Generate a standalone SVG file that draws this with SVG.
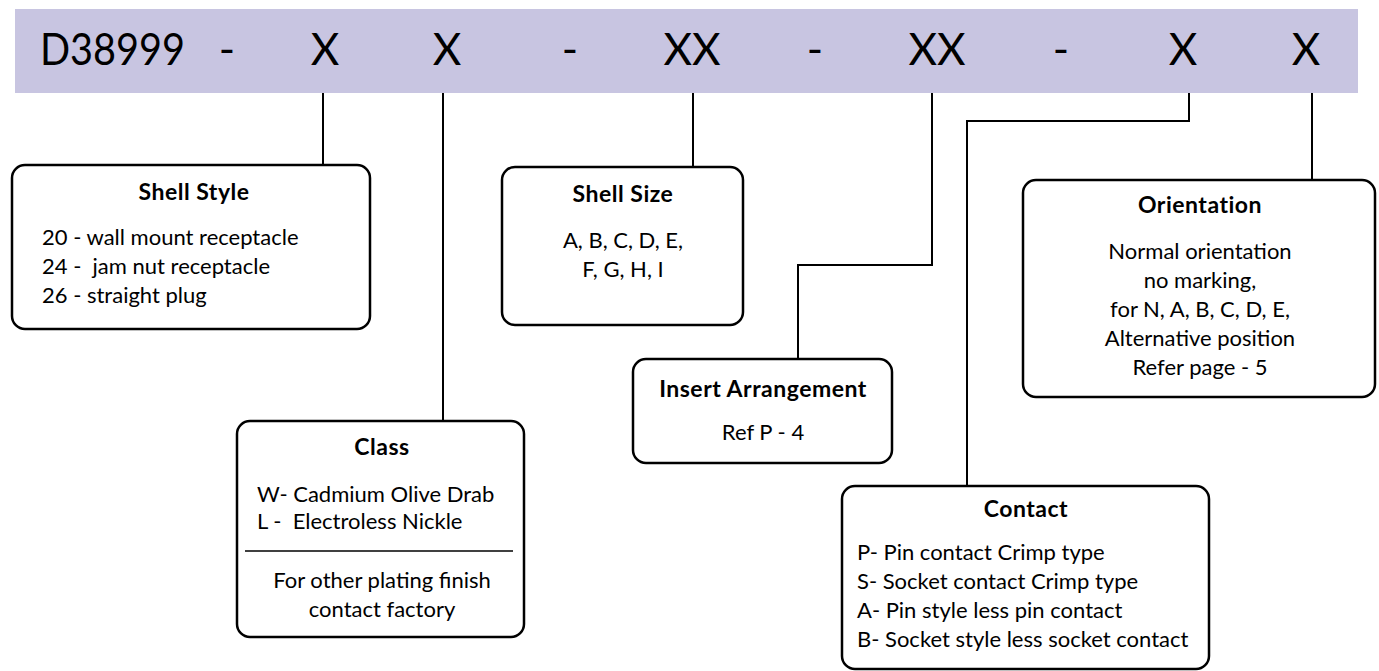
<svg xmlns="http://www.w3.org/2000/svg" width="1379" height="671" viewBox="0 0 1379 671">
<style>
.bar{fill:#c8c5e1;}
.hdr{font-family:Lato,"Open Sans","Liberation Sans",sans-serif;font-size:44px;fill:#000;text-anchor:middle;}
.box{fill:#fff;stroke:#000;stroke-width:2.5;}
.conn{fill:none;stroke:#000;stroke-width:2;}
.ttl{font-family:Lato,"Open Sans","Liberation Sans",sans-serif;font-size:23px;font-weight:bold;letter-spacing:0.5px;fill:#000;text-anchor:middle;}
.txt{font-family:Lato,"Open Sans","Liberation Sans",sans-serif;font-size:22px;fill:#000;}
.mid{text-anchor:middle;}
.div{stroke:#000;stroke-width:1.5;}
</style>
<rect width="1379" height="671" fill="#fff"/>
<g id="header">
<rect class="bar" x="15" y="9" width="1343" height="84"/>
<text class="hdr" x="40" y="65" style="text-anchor:start" textLength="145" lengthAdjust="spacingAndGlyphs">D38999</text>
<text class="hdr" x="227" y="65">-</text>
<text class="hdr" x="325" y="65">X</text>
<text class="hdr" x="447" y="65">X</text>
<text class="hdr" x="570" y="65">-</text>
<text class="hdr" x="692" y="65">XX</text>
<text class="hdr" x="815" y="65">-</text>
<text class="hdr" x="937" y="65">XX</text>
<text class="hdr" x="1061" y="65">-</text>
<text class="hdr" x="1183" y="65">X</text>
<text class="hdr" x="1306" y="65">X</text>
</g>
<g id="connectors">
<path class="conn" d="M323 93 V165"/>
<path class="conn" d="M443 93 V421"/>
<path class="conn" d="M693 93 V167"/>
<path class="conn" d="M932 93 V265 H798 V359"/>
<path class="conn" d="M1189 93 V121 H967 V486"/>
<path class="conn" d="M1312 93 V180"/>
</g>
<g id="shell-style">
<rect class="box" x="12" y="165" width="358" height="164" rx="13"/>
<text class="ttl" x="194" y="200">Shell Style</text>
<text class="txt" x="42" y="245">20 - wall mount receptacle</text>
<text class="txt" x="42" y="274" xml:space="preserve">24 -  jam nut receptacle</text>
<text class="txt" x="42" y="303">26 - straight plug</text>
</g>
<g id="shell-size">
<rect class="box" x="502" y="167" width="241" height="158" rx="13"/>
<text class="ttl" x="623" y="202">Shell Size</text>
<text class="txt mid" x="623" y="248">A, B, C, D, E,</text>
<text class="txt mid" x="623" y="277">F, G, H, I</text>
</g>
<g id="insert-arrangement">
<rect class="box" x="633" y="359" width="259" height="104" rx="13"/>
<text class="ttl" x="763" y="397">Insert Arrangement</text>
<text class="txt mid" x="763" y="440">Ref P - 4</text>
</g>
<g id="class">
<rect class="box" x="237" y="421" width="287" height="216" rx="13"/>
<text class="ttl" x="382" y="455">Class</text>
<text class="txt" x="257" y="502">W- Cadmium Olive Drab</text>
<text class="txt" x="257" y="529" xml:space="preserve">L -  Electroless Nickle</text>
<line class="div" x1="245" y1="551" x2="513" y2="551"/>
<text class="txt mid" x="382" y="588">For other plating finish</text>
<text class="txt mid" x="382" y="617">contact factory</text>
</g>
<g id="orientation">
<rect class="box" x="1023" y="180" width="352" height="217" rx="13"/>
<text class="ttl" x="1200" y="213">Orientation</text>
<text class="txt mid" x="1200" y="259">Normal orientation</text>
<text class="txt mid" x="1200" y="288">no marking,</text>
<text class="txt mid" x="1200" y="317">for N, A, B, C, D, E,</text>
<text class="txt mid" x="1200" y="346">Alternative position</text>
<text class="txt mid" x="1200" y="375">Refer page - 5</text>
</g>
<g id="contact">
<rect class="box" x="842" y="486" width="367" height="183" rx="13"/>
<text class="ttl" x="1026" y="517">Contact</text>
<text class="txt" x="857" y="560">P- Pin contact Crimp type</text>
<text class="txt" x="857" y="589">S- Socket contact Crimp type</text>
<text class="txt" x="857" y="618">A- Pin style less pin contact</text>
<text class="txt" x="857" y="647">B- Socket style less socket contact</text>
</g>
</svg>
